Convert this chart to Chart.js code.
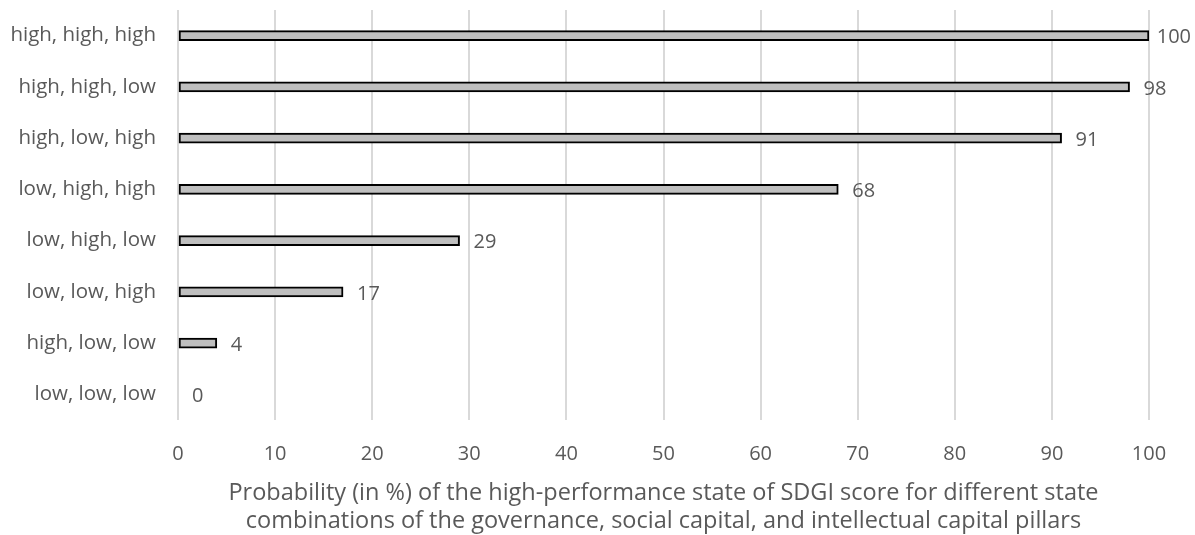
<!DOCTYPE html>
<html>
<head>
<meta charset="utf-8">
<script src="https://cdn.jsdelivr.net/npm/chart.js@4"></script>
<style>
  html, body { margin: 0; padding: 0; background: #fff; }
  #wrap { width: 1195px; height: 535px; }
</style>
</head>
<body>
<div id="wrap"><canvas id="c" width="1195" height="535"></canvas></div>
<script>
// категории и значения
const categories = [
  "high, high, high", "high, high, low", "high, low, high", "low, high, high",
  "low, high, low", "low, low, high", "high, low, low", "low, low, low"
];
const values = [100, 98, 91, 68, 29, 17, 4, 0];
const axisTitle = [
  "Probability (in %) of the high-performance state of SDGI score for different state",
  "combinations of the governance, social capital, and intellectual capital pillars"
];

const FONT = "'Open Sans', 'Noto Sans', sans-serif";
const TXT = "#595959";

// подписи значений справа от столбцов
const valueLabels = {
  id: "valueLabels",
  afterDatasetsDraw(chart) {
    const ctx = chart.ctx;
    const meta = chart.getDatasetMeta(0);
    ctx.save();
    ctx.font = "20px " + FONT;
    ctx.fillStyle = TXT;
    ctx.textBaseline = "middle";
    meta.data.forEach((bar, i) => {
      const txt = String(values[i]);
      let x = bar.x + 14;
      const w = ctx.measureText(txt).width;
      if (x + w > chart.width - 4) x = chart.width - 4 - w;
      ctx.fillText(txt, x, bar.y + 2);
    });
    ctx.restore();
  }
};

new Chart(document.getElementById("c"), {
  type: "bar",
  data: {
    labels: categories,
    datasets: [{
      data: values,
      backgroundColor: "#bfbfbf",
      borderColor: "#000000",
      borderWidth: 2,
      borderSkipped: false,
      barThickness: 10
    }]
  },
  options: {
    indexAxis: "y",
    responsive: false,
    animation: false,
    layout: { padding: { top: 10, right: 46, left: 0, bottom: 0 } },
    plugins: { legend: { display: false }, tooltip: { enabled: false } },
    scales: {
      x: {
        min: 0, max: 100,
        ticks: { stepSize: 10, color: TXT, font: { family: FONT, size: 20 }, padding: 22 },
        grid: { color: "#d9d9d9", lineWidth: 2, drawTicks: false },
        border: { display: false },
        title: {
          display: true, text: axisTitle, color: TXT,
          font: { family: FONT, size: 23.5, lineHeight: 1.17 },
          padding: { top: 4, bottom: 0 }
        },
        afterFit(scale) { scale.height = 115; scale.paddingLeft = 0; scale.paddingRight = 0; }
      },
      y: {
        ticks: { color: TXT, font: { family: FONT, size: 20.5 }, padding: 22 },
        grid: { display: false, drawTicks: false },
        border: { display: false },
        afterFit(scale) { scale.width = 178; scale.paddingTop = 0; scale.paddingBottom = 0; }
      }
    }
  },
  plugins: [valueLabels]
});
</script>
</body>
</html>
